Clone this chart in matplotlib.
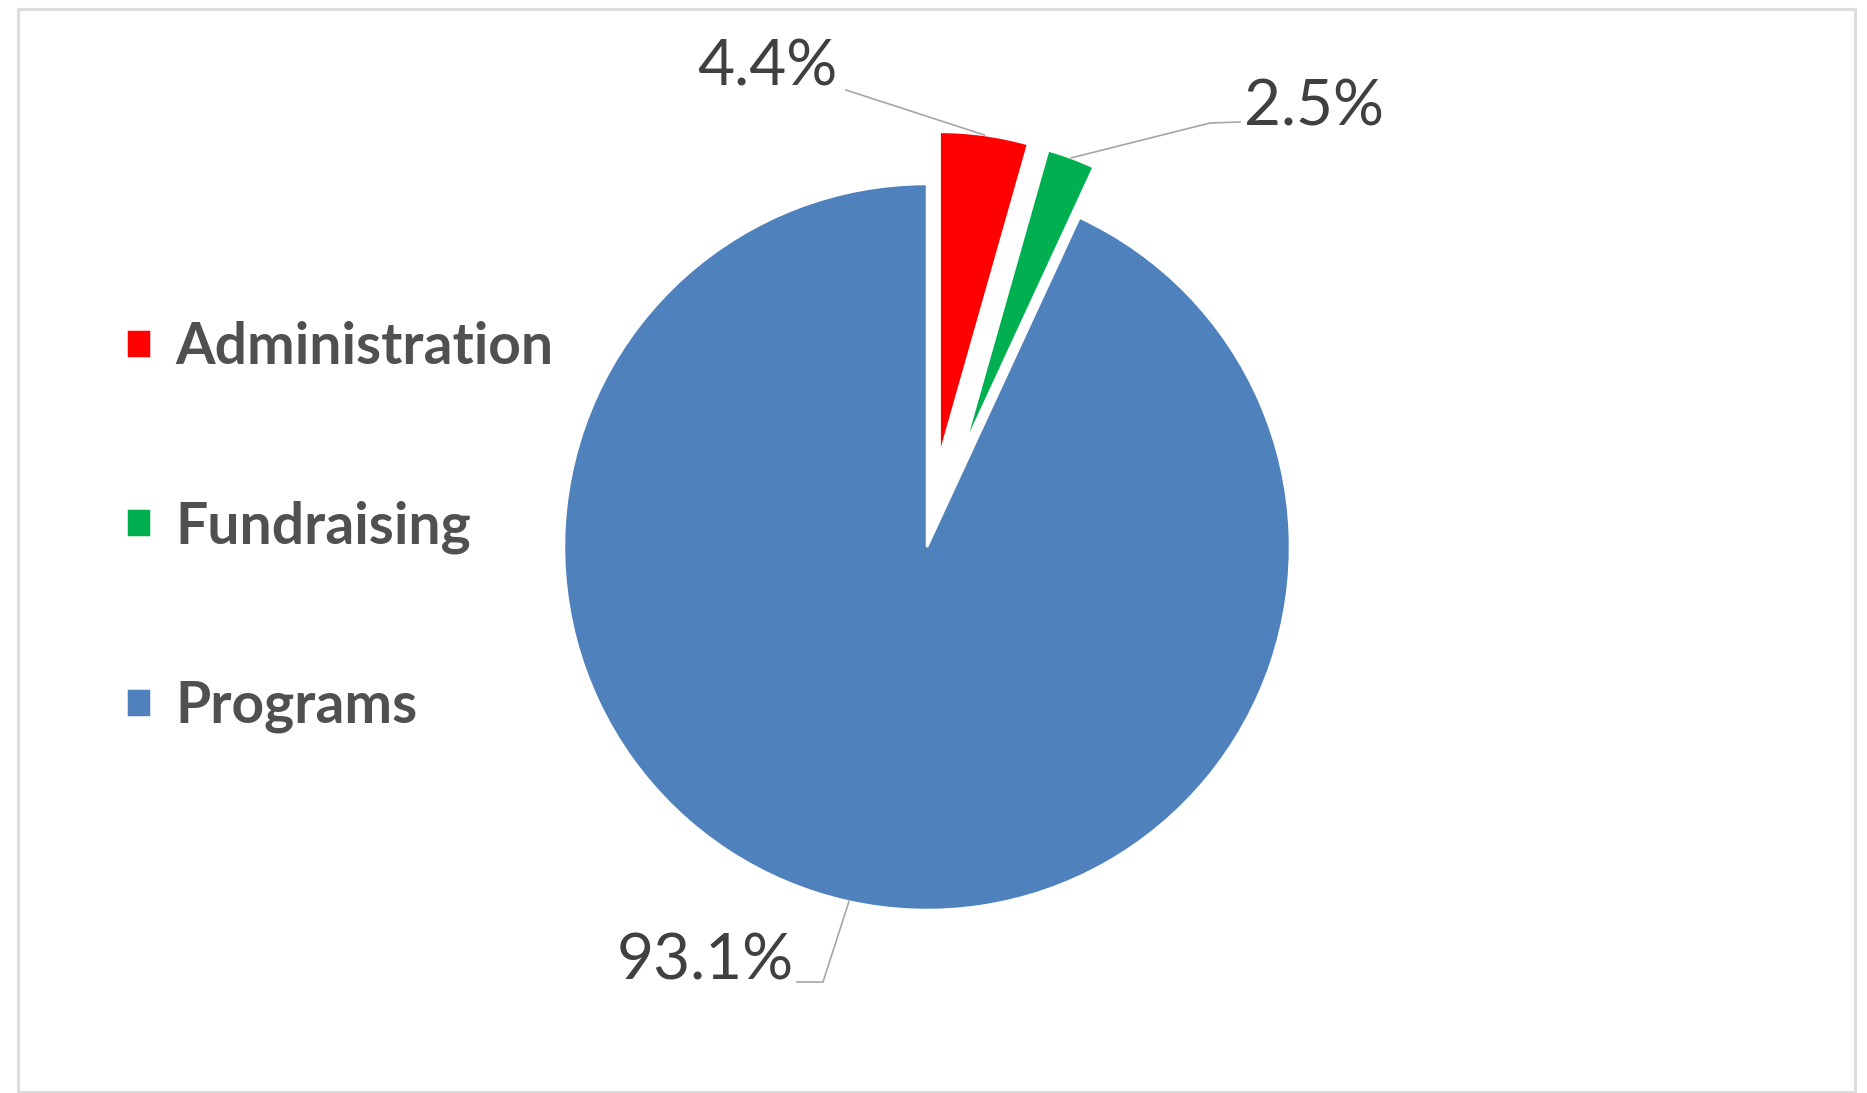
import numpy as np
import matplotlib.pyplot as plt
from matplotlib.patches import Rectangle

plt.rcParams['font.family'] = ['Lato', 'DejaVu Sans']

# data
categories = ['Administration', 'Fundraising', 'Programs']
shares = [4.4, 2.5, 93.1]
colors = ['#FF0000', '#00B050', '#4F81BD']
labels = ['4.4%', '2.5%', '93.1%']

W, H = 1867, 1093
fig = plt.figure(figsize=(W / 100, H / 100), dpi=100)
ax = fig.add_axes([0, 0, 1, 1])

# outer chart frame
fig.patches.append(Rectangle((18 / W, 1 / H), 1837 / W, 1083 / H, transform=fig.transFigure,
                             fill=False, edgecolor='#DCDCDC', linewidth=2.2))

R = 363
cx, cy = 927, H - 547
# explode offsets are absolute (data units) in matplotlib
explode = [92, 106, 0]
wedges, _ = ax.pie(shares, colors=colors, startangle=90, counterclock=False,
                   explode=explode, radius=R, center=(cx, cy),
                   wedgeprops=dict(edgecolor='white', linewidth=1.8), frame=True)
ax.set_xlim(0, W)
ax.set_ylim(0, H)
ax.axis('off')
# the pulled-out slices are drawn a little smaller
wedges[0].set_radius(324)
wedges[1].set_radius(309)


def arc_mid(w):
    a = np.deg2rad((w.theta1 + w.theta2) / 2)
    return w.center[0] + w.r * np.cos(a), w.center[1] + w.r * np.sin(a)


lc = '#A6A6A6'
tc = '#404040'
fs = 46

# 4.4%
x0, y0 = arc_mid(wedges[0])
ax.plot([x0, 846], [y0, H - 90], color=lc, lw=1.2)
ax.text(767, H - 67, labels[0], ha='center', va='center', fontsize=fs, color=tc)

# 2.5%
x1, y1 = arc_mid(wedges[1])
ax.plot([x1, 1210, 1240], [y1, H - 123, H - 122], color=lc, lw=1.2)
ax.text(1314, H - 108, labels[1], ha='center', va='center', fontsize=fs, color=tc)

# 93.1%
x2, y2 = arc_mid(wedges[2])
ax.plot([x2, 823, 797], [y2, H - 982, H - 982], color=lc, lw=1.2)
ax.text(705, H - 961, labels[2], ha='center', va='center', fontsize=fs, color=tc)

leg = ax.legend(wedges, categories, loc='center left', bbox_to_anchor=(126 / W, 1 - 527 / H),
                frameon=False, borderpad=0, borderaxespad=0, handlelength=0.44,
                handleheight=0.41, handletextpad=0.42, labelspacing=2.22,
                prop=dict(size=41, weight='bold'), labelcolor='#505050')

fig.savefig('out.png', dpi=100)
